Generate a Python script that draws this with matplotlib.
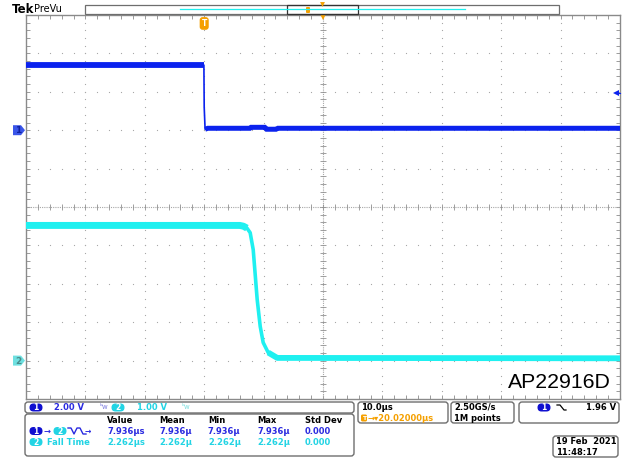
import numpy as np
import matplotlib
matplotlib.use('Agg')
import matplotlib.pyplot as plt
from matplotlib.patches import FancyBboxPatch, Polygon

## scope settings
time_div = 10.0          # us/div
ch1_scale = 2.00         # V/div
ch2_scale = 1.00         # V/div
ch1_pos = 2.0            # div above center
ch2_pos = -4.0
trig_level = 1.96        # V, ch1 falling edge
t_left, t_right = -30.0, 70.0
t_center = 20.0

## ch1 (blue) enable signal, breakpoints in us / V
t1 = [-30.0, -0.05, 0.0, 0.15, 0.6, 7.7, 7.9, 10.2, 10.5, 12.1, 12.4, 70.0]
v1 = [3.39, 3.39, 1.2, 0.05, 0.10, 0.10, 0.15, 0.15, 0.05, 0.05, 0.10, 0.10]

## ch2 (cyan) output, breakpoints in us / V
t2 = [-30.0, 6.0, 6.6, 7.2, 7.74, 8.25, 8.92, 9.43, 9.93, 10.77, 12.3, 70.0]
v2 = [3.52, 3.52, 3.50, 3.45, 3.33, 2.89, 1.59, 0.89, 0.47, 0.21, 0.07, 0.06]

## measurement table
meas_cols = ['Value', 'Mean', 'Min', 'Max', 'Std Dev']
meas_delay = ['7.936\u00b5s', '7.936\u00b5', '7.936\u00b5', '7.936\u00b5', '0.000']
meas_fall = ['2.262\u00b5s', '2.262\u00b5', '2.262\u00b5', '2.262\u00b5', '0.000']

blue = '#0b22ee'
blue_txt = '#2a2ae0'
cyan = '#1ff0f0'
cyan_txt = '#22d4e4'
orange = '#f5a000'
grid_c = '#a8a8a8'
box_c = '#6e6e6e'

plt.rcParams['font.family'] = ['DejaVu Sans']

fig = plt.figure(figsize=(6.29, 4.61), dpi=100)

ax = fig.add_axes([26/629, 1-399/461, 594/629, 384/461])
ax.set_xlim(t_left, t_right)
ax.set_ylim(-5, 5)
for s in ax.spines.values():
    s.set_color('#8a8a8a')
    s.set_linewidth(1.0)
ax.set_xticks(np.arange(t_left, t_right + 0.1, time_div/5))
ax.set_yticks(np.arange(-5, 5.01, 0.2))
ax.tick_params(direction='in', length=3, width=0.6, color='#8a8a8a',
               top=True, right=True, labelleft=False, labelbottom=False)

# dotted graticule
ys = np.arange(-5, 5.01, 0.2)
xs = np.arange(t_left, t_right + 0.1, time_div/5)
for gx in np.arange(t_left + time_div, t_right, time_div):
    if gx == t_center:
        continue
    ax.plot(np.full(len(ys), gx), ys, ls='none', marker='s', ms=0.8, mew=0, color=grid_c)
for gy in range(-4, 5):
    if gy == 0:
        continue
    ax.plot(xs, np.full(len(xs), gy), ls='none', marker='s', ms=0.8, mew=0, color=grid_c)
# center cross
ax.axhline(0, color=grid_c, lw=0.8, ls=(0, (1, 1)))
ax.axvline(t_center, color=grid_c, lw=0.8, ls=(0, (1, 1)))
ax.plot(xs, np.zeros(len(xs)), ls='none', marker='|', ms=4, mew=0.6, color='#909090')
ax.plot(np.full(len(ys), t_center), ys, ls='none', marker='_', ms=4, mew=0.6, color='#909090')

# traces
y1 = ch1_pos + np.array(v1) / ch1_scale
y2 = ch2_pos + np.array(v2) / ch2_scale
ax.plot(t1, y1, color=blue, lw=1.2, zorder=5)
ax.plot(t1[:2], y1[:2], color=blue, lw=4.2, zorder=5, solid_capstyle='butt')
ax.plot(t1[3:], y1[3:], color=blue, lw=3.6, zorder=5, solid_capstyle='butt', solid_joinstyle='miter')
ax.plot(t2, y2, color=cyan, lw=2.6, zorder=5, solid_joinstyle='round')
ax.plot(t2[:4], y2[:4], color=cyan, lw=5.0, zorder=5, solid_capstyle='butt', solid_joinstyle='round')
ax.plot(t2[-3:], y2[-3:], color=cyan, lw=4.2, zorder=5, solid_capstyle='butt', solid_joinstyle='round')

# trigger marks
ax.text(0, 4.78, 'T', color='white', fontsize=5.5, fontweight='bold', ha='center', va='center',
        bbox=dict(boxstyle='round,pad=0.15,rounding_size=0.3', fc=orange, ec=orange), zorder=6)
ax.plot(t_center, 4.95, marker='v', ms=4.5, color=orange, mew=0, clip_on=False, zorder=6)
ax.plot(t_right - 0.7, ch1_pos + trig_level / ch1_scale, marker='<', ms=4.5, color=blue,
        mew=0, zorder=6, clip_on=False)
ax.plot([t_right - 0.8, t_right], [ch1_pos + trig_level / ch1_scale]*2, color=blue, lw=0.8,
        zorder=6, clip_on=False)

ax.text(0.985, 0.028, 'AP22916D', transform=ax.transAxes, ha='right', va='baseline',
        fontsize=15.3, family='Liberation Sans', color='black')

## everything around the graticule, in screen pixels
ov = fig.add_axes([0, 0, 1, 1])
ov.set_xlim(0, 629)
ov.set_ylim(461, 0)
ov.axis('off')
ov.patch.set_visible(False)


def rbox(x0, y0, x1, y1, r=3):
    ov.add_patch(FancyBboxPatch((x0, y0), x1 - x0, y1 - y0,
                                boxstyle='round,pad=0,rounding_size=%g' % r,
                                fc='none', ec=box_c, lw=1.0, mutation_aspect=1))


def badge(x, y, s, fc, tc='white', w=13, h=8):
    ov.add_patch(FancyBboxPatch((x - w/2, y - h/2), w, h,
                                boxstyle='round,pad=0,rounding_size=%g' % (h/2),
                                fc=fc, ec='none', mutation_aspect=1))
    ov.text(x, y + 0.3, s, color=tc, fontsize=5.5, fontweight='bold', ha='center', va='center')


def txt(x, y, s, c='black', **kw):
    ov.text(x, y, s, color=c, fontsize=6, fontweight='bold', ha='left', va='center', **kw)


# header
ov.text(12, 9.5, 'Tek', fontsize=8.5, fontweight='bold', ha='left', va='center')
ov.text(34, 9.5, 'PreVu', fontsize=7, ha='left', va='center')
ov.add_patch(plt.Rectangle((85, 5), 474, 9, fc='white', ec=box_c, lw=0.9))
ov.plot([180, 465], [9.5, 9.5], color=cyan, lw=0.9)
ov.add_patch(plt.Rectangle((287, 5), 71, 9, fc='none', ec='#333333', lw=0.9))
ov.add_patch(FancyBboxPatch((306, 7), 4, 6, boxstyle='round,pad=0,rounding_size=1',
                            fc=orange, ec='none'))
ov.plot(322, 4.5, marker='v', ms=3.5, color=orange, mew=0)

# channel ground markers
for gy, fc, lab, tc in [(207 - ch1_pos*38.4, '#3a55e8', '1', '#1020a0'),
                        (207 - ch2_pos*38.4, '#6ee0e0', '2', '#4a8a8a')]:
    ov.add_patch(Polygon([[13, gy - 5], [21, gy - 5], [25, gy], [21, gy + 5], [13, gy + 5]],
                         closed=True, fc=fc, ec='none'))
    ov.text(18, gy + 0.5, lab, color=tc, fontsize=6.5, fontweight='bold', ha='center', va='center')

# channel scale bar
rbox(25, 402, 354, 413)
badge(36, 407.5, '1', '#1010d0')
txt(54, 407.5, '%.2f V' % ch1_scale, blue_txt)
ov.text(100, 407, '\u1d47w', color='#8080e0', fontsize=5, ha='left', va='center')
badge(118, 407.5, '2', cyan_txt)
txt(137, 407.5, '%.2f V' % ch2_scale, cyan_txt)
ov.text(182, 407, '\u1d47w', color='#80e0e0', fontsize=5, ha='left', va='center')

# measurement table
rbox(25, 414, 354, 456)
col_x = [107, 159, 208, 257, 305]
for cx, s in zip(col_x, meas_cols):
    txt(cx, 420, s)
badge(36, 431, '1', '#1010d0')
ov.text(44, 431, '\u2192', color=blue_txt, fontsize=6, fontweight='bold', ha='left', va='center')
badge(60, 431, '2', cyan_txt)
ov.plot([68, 71, 74, 77, 80, 83, 86], [428, 428, 434, 428, 428, 434, 434], color=blue_txt, lw=1.0)
ov.text(85, 431, '\u2192', color=blue_txt, fontsize=5.5, fontweight='bold', ha='left', va='center')
for cx, s in zip(col_x, meas_delay):
    txt(cx, 431, s, blue_txt)
badge(36, 442, '2', cyan_txt)
txt(47, 442, 'Fall Time', cyan_txt)
for cx, s in zip(col_x, meas_fall):
    txt(cx, 442, s, cyan_txt)

# horizontal
rbox(358, 402, 448, 423)
txt(361, 407, '%.1f\u00b5s' % time_div)
ov.add_patch(FancyBboxPatch((361, 414.5), 6, 7, boxstyle='round,pad=0,rounding_size=1.5',
                            fc=orange, ec='none'))
ov.text(364, 418.3, 'T', color='white', fontsize=4.5, fontweight='bold', ha='center', va='center')
txt(368, 418, '\u2192\u25be20.02000\u00b5s', orange)

# acquisition
rbox(451, 402, 514, 423)
txt(454, 407, '2.50GS/s')
txt(454, 418, '1M points')

# trigger
rbox(519, 402, 619, 423)
badge(544, 407.5, '1', '#1010d0')
ov.plot([557, 560, 564, 566], [405, 405, 410, 410], color='black', lw=0.9)
ov.text(616, 407.5, '%.2f V' % trig_level, fontsize=6, fontweight='bold', ha='right', va='center')

# date
rbox(553, 436, 618, 457)
txt(556, 441.5, '19 Feb  2021')
txt(556, 452, '11:48:17')

fig.savefig('out.png', dpi=100)
